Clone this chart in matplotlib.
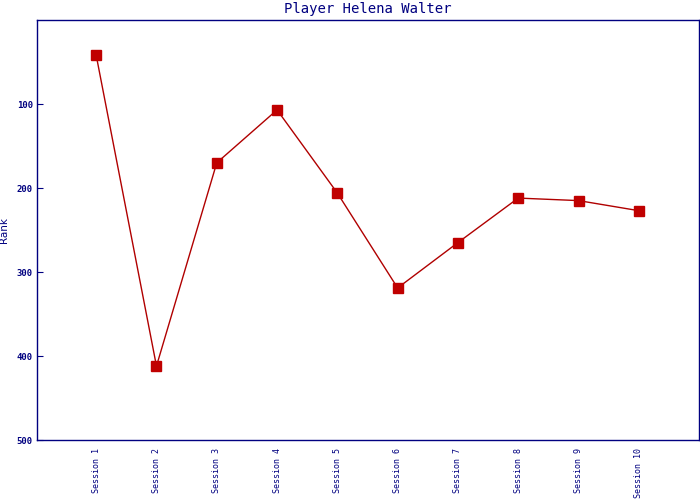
import matplotlib
matplotlib.use('Agg')
import matplotlib.pyplot as plt

sessions = ['Session %d' % i for i in range(1, 11)]
ranks = [42, 412, 170, 107, 206, 319, 265, 212, 215, 227]

navy = '#000080'
red = '#b00000'

fig = plt.figure(figsize=(7, 5), dpi=100)
ax = fig.add_axes([0.053, 0.12, 0.9457, 0.84])

x = list(range(1, len(sessions) + 1))
ax.plot(x, ranks, color=red, linewidth=1.0, marker='s', markersize=6.5,
        markerfacecolor='#c00000', markeredgecolor='#c00000')

ax.set_xlim(0.02, 11.0)
ax.set_ylim(500, 0)
ax.set_yticks([100, 200, 300, 400, 500])
ax.set_xticks(x)
ax.set_xticklabels(sessions, rotation=90, family='DejaVu Sans Mono',
                   fontsize=6, color=navy)
for lab in ax.get_yticklabels():
    lab.set_family('DejaVu Sans Mono')
    lab.set_fontsize(6.5)
    lab.set_color(navy)
    lab.set_fontweight('bold')

ax.tick_params(axis='y', direction='in', length=4, color=navy, pad=3)
ax.tick_params(axis='x', length=0, pad=6)
for s in ax.spines.values():
    s.set_color(navy)
    s.set_linewidth(1.0)

ax.set_ylabel('Rank', color=navy, fontsize=7.5)
ax.yaxis.set_label_coords(-0.043, 0.5)
ax.set_title('Player Helena Walter', color=navy, family='DejaVu Sans Mono',
             fontsize=10, pad=5)

fig.savefig('out.png', dpi=100)
